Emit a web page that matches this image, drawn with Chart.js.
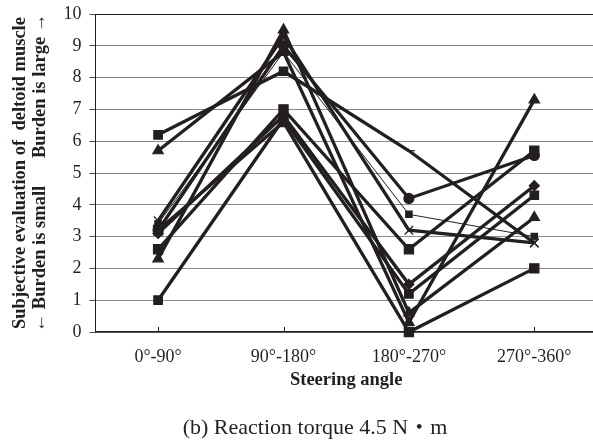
<!DOCTYPE html>
<html><head><meta charset="utf-8">
<script src="https://cdn.jsdelivr.net/npm/chart.js@4"></script>
<style>
html,body{margin:0;padding:0;background:#fff;overflow:hidden;width:593px;height:441px;}
#wrap{position:absolute;left:0;top:0;width:597px;height:441px;}
#cap{position:absolute;top:414px;left:0;width:630px;text-align:center;font-size:22px;line-height:26px;font-family:"Liberation Serif","Noto Sans CJK JP",serif;color:#231f20;white-space:nowrap;}
</style></head><body>
<div id="wrap"><canvas id="c" width="597" height="441"></canvas></div>
<div id="cap">(b) Reaction torque 4.5 N・m</div>
<script>
const categories = ['0°-90°', '90°-180°', '180°-270°', '270°-360°'];
const yTickLabels = ['0','1','2','3','4','5','6','7','8','9','10'];
const s1 = [6.2, 8.2, 5.7, 2.8];
const s2 = [5.7, 8.8, 0.3, 7.3];
const s3 = [3.5, 9.3, 3.2, 2.8];
const s4 = [2.3, 9.5, 0.6, 3.6];
const s5 = [3.2, 9.0, 4.2, 5.55];
const s6 = [3.4, 8.8, 3.7, 3.0];
const s7 = [2.6, 7.0, 2.6, 5.7];
const s8 = [3.1, 6.8, 1.5, 4.6];
const s9 = [1.0, 6.7, 1.2, 4.3];
const s10 = [3.2, 6.6, 0.0, 2.0];

const INK = '#231f20';
function ds(data, style, r, w) {
  return { data, pointStyle: style, pointRadius: r, pointHoverRadius: r,
    borderColor: INK, backgroundColor: INK, pointBackgroundColor: INK, pointBorderColor: INK,
    pointBorderWidth: 1.2, borderWidth: w, tension: 0, clip: false, fill: false };
}

const innerTicks = {
  id: 'innerTicks',
  beforeDatasetsDraw(chart) {
    const x = chart.scales.x, ctx = chart.ctx, b = chart.chartArea.bottom;
    ctx.save(); ctx.strokeStyle = INK; ctx.lineWidth = 1;
    x.ticks.forEach((t, i) => {
      const px = Math.round(x.getPixelForTick(i)) + 0.5;
      ctx.beginPath(); ctx.moveTo(px, b); ctx.lineTo(px, b - 5); ctx.stroke();
    });
    ctx.restore();
  }
};

new Chart(document.getElementById('c'), {
  type: 'line',
  data: {
    labels: categories,
    datasets: [
      ds(s1, ['rect', 'rect', 'dash', 'crossRot'], 6, 3.3),
      ds(s2, 'triangle', 6, 3.3),
      ds(s3, 'crossRot', 6, 3.3),
      ds(s4, 'triangle', 6, 3.3),
      ds(s5, 'circle', 5, 3.3),
      ds(s6, 'rect', 4.5, 1),
      ds(s7, 'rect', 6.5, 3.3),
      ds(s8, 'rectRot', 5, 3.3),
      ds(s9, 'rect', 6, 3.3),
      ds(s10, 'rect', 6.5, 3.3)
    ]
  },
  options: {
    responsive: false, animation: false,
    layout: { autoPadding: false, padding: { top: 14, bottom: 49, left: 0, right: 0 } },
    plugins: { legend: { display: false }, tooltip: { enabled: false } },
    scales: {
      x: {
        type: 'category', offset: true,
        grid: { display: true, drawOnChartArea: false, drawTicks: false },
        border: { display: true, color: INK, width: 1.5 },
        ticks: { font: { family: 'Liberation Serif', size: 18 }, color: INK, padding: 14, maxRotation: 0 },
        title: { display: true, text: 'Steering angle', color: INK,
          font: { family: 'Liberation Serif', size: 18.5, weight: 'bold' }, padding: { top: 0, bottom: 1 } },
        afterFit(s) { s.height = 60; }
      },
      y: {
        min: 0, max: 10,
        ticks: { stepSize: 1, font: { family: 'Liberation Serif', size: 18, lineHeight: 0.6 }, color: INK, padding: 8,
          callback: (v, i) => yTickLabels[i] },
        grid: { color: c => c.tick && c.tick.value === 10 ? INK : '#8a8a8a', lineWidth: 1, tickLength: 6, tickColor: '#555' },
        border: { display: true, color: INK, width: 1 },
        title: { display: true, color: INK,
          text: ['Subjective evaluation of  deltoid muscle', '← Burden is small      Burden is large →'],
          font: { family: 'Liberation Serif', size: 18.5, weight: 'bold', lineHeight: 1.08 },
          padding: { top: 10, bottom: 0 } },
        afterFit(s) { s.width = 95.4; }
      }
    }
  },
  plugins: [innerTicks]
});
</script>
</body></html>
